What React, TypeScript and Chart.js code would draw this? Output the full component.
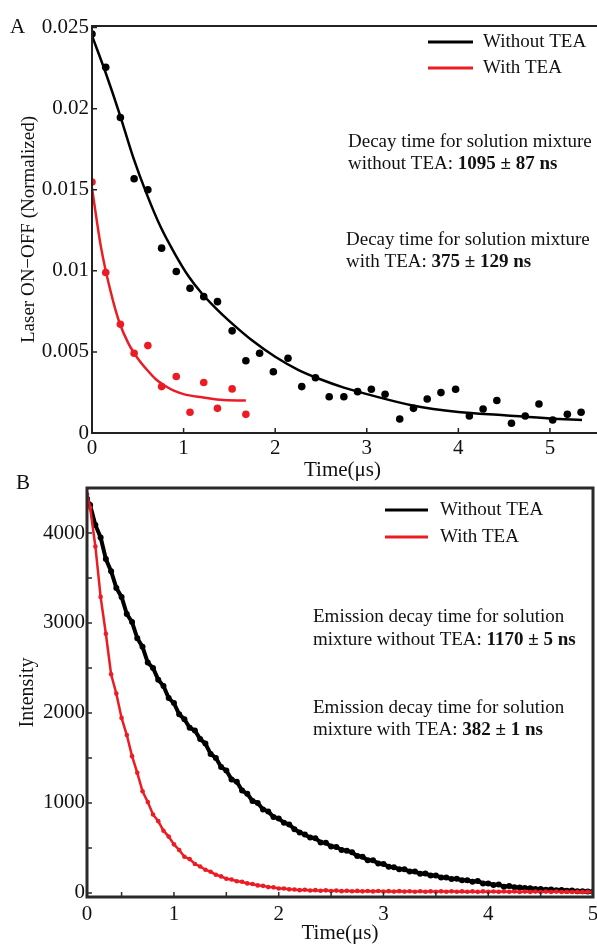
import React, { useEffect, useRef } from 'react';
import { Chart, registerables } from 'chart.js';

Chart.register(...registerables);

const FONT = "'Liberation Serif', 'Times New Roman', serif";
const RED = '#ec1c24';
const BLACK = '#000000';

// ---------- Panel A : Laser ON-OFF ----------
const aPointTimes = [0, 0.15, 0.31, 0.46, 0.61, 0.76, 0.92, 1.07, 1.22, 1.37, 1.53, 1.68, 1.83, 1.98, 2.14, 2.29, 2.44, 2.59, 2.75, 2.9, 3.05, 3.2, 3.36, 3.51, 3.66, 3.81, 3.97, 4.12, 4.27, 4.42, 4.58, 4.73, 4.88, 5.03, 5.19, 5.34];
const aWithoutPoints = [0.0246, 0.02255, 0.01946, 0.01568, 0.015, 0.0114, 0.00996, 0.00893, 0.00841, 0.0081, 0.0063, 0.00446, 0.00492, 0.00378, 0.00461, 0.00286, 0.00341, 0.00224, 0.00224, 0.00255, 0.0027, 0.00239, 0.00086, 0.00152, 0.0021, 0.00249, 0.0027, 0.00105, 0.00148, 0.002, 0.0006, 0.00105, 0.00179, 0.0008, 0.00115, 0.00128];
const aWithPointTimes = [0, 0.15, 0.31, 0.46, 0.61, 0.76, 0.92, 1.07, 1.22, 1.37, 1.53, 1.68];
const aWithPoints = [0.01548, 0.0099, 0.00671, 0.00492, 0.00539, 0.00286, 0.00348, 0.00128, 0.00311, 0.00152, 0.00272, 0.00115];
const aWithoutFitTimes = [0, 0.15, 0.3, 0.45, 0.6, 0.75, 0.9, 1.05, 1.2, 1.35, 1.5, 1.75, 2.0, 2.25, 2.5, 2.75, 3.0, 3.5, 4.0, 4.5, 5.0, 5.35];
const aWithoutFit = [0.0245, 0.0222, 0.0197, 0.017, 0.0147, 0.0127, 0.0111, 0.0097, 0.0086, 0.0077, 0.0069, 0.0057, 0.0047, 0.0039, 0.0033, 0.0028, 0.0024, 0.0017, 0.0013, 0.0011, 0.0009, 0.0008];
const aWithFitTimes = [0, 0.1, 0.2, 0.3, 0.4, 0.5, 0.6, 0.7, 0.8, 0.9, 1.0, 1.2, 1.4, 1.68];
const aWithFit = [0.0151, 0.0114, 0.0088, 0.0068, 0.0055, 0.0046, 0.0039, 0.0033, 0.0029, 0.0026, 0.0024, 0.0022, 0.00205, 0.002];
const aXTicks = [0, 1, 2, 3, 4, 5];
const aXTickLabels = ['0', '1', '2', '3', '4', '5'];
const aYTicks = [0, 0.005, 0.01, 0.015, 0.02, 0.025];
const aYTickLabels = ['0', '0.005', '0.01', '0.015', '0.02', '0.025'];

// ---------- Panel B : Emission intensity ----------
const bTimes = [
  0.17, 0.2, 0.25, 0.3, 0.35, 0.4, 0.45, 0.5, 0.55, 0.6,
  0.65, 0.7, 0.75, 0.8, 0.85, 0.9, 0.95, 1.0, 1.05, 1.1,
  1.15, 1.2, 1.25, 1.3, 1.35, 1.4, 1.45, 1.5, 1.55, 1.6,
  1.65, 1.7, 1.75, 1.8, 1.85, 1.9, 1.95, 2.0, 2.05, 2.1,
  2.15, 2.2, 2.25, 2.3, 2.35, 2.4, 2.45, 2.5, 2.55, 2.6,
  2.65, 2.7, 2.75, 2.8, 2.85, 2.9, 2.95, 3.0, 3.05, 3.1,
  3.15, 3.2, 3.25, 3.3, 3.35, 3.4, 3.45, 3.5, 3.55, 3.6,
  3.65, 3.7, 3.75, 3.8, 3.85, 3.9, 3.95, 4.0, 4.05, 4.1,
  4.15, 4.2, 4.25, 4.3, 4.35, 4.4, 4.45, 4.5, 4.55, 4.6,
  4.65, 4.7, 4.75, 4.8, 4.85, 4.9, 4.95, 5.0,
];
const bWithout = [
  4380, 4310, 4090, 3950, 3710, 3575, 3390, 3290, 3100, 3010,
  2830, 2735, 2560, 2500, 2370, 2300, 2165, 2110, 1985, 1930,
  1835, 1805, 1710, 1660, 1545, 1500, 1400, 1360, 1262, 1235,
  1138, 1102, 1022, 1000, 928, 905, 845, 828, 780, 762,
  708, 672, 650, 615, 608, 562, 558, 515, 512, 478,
  470, 452, 410, 402, 362, 362, 328, 322, 292, 286,
  262, 262, 238, 238, 214, 216, 194, 194, 172, 172,
  154, 158, 140, 140, 124, 132, 106, 104, 88, 94,
  70, 76, 64, 60, 54, 51, 44, 44, 36, 38,
  30, 32, 24, 26, 20, 18, 16, 13,
];
const bWith = [
  4430, 4280, 3850, 3290, 2880, 2430, 2215, 1945, 1755, 1520,
  1335, 1130, 1010, 872, 798, 692, 626, 540, 478, 402,
  376, 322, 294, 258, 236, 202, 184, 158, 150, 130,
  124, 106, 99, 84, 79, 65, 62, 50, 50, 40,
  39, 31, 35, 28, 31, 25, 29, 22, 26, 20,
  24, 19, 23, 18, 22, 17, 21, 16, 20, 15,
  20, 15, 19, 14, 19, 14, 18, 14, 18, 13,
  18, 13, 17, 13, 17, 12, 17, 12, 16, 12,
  16, 12, 16, 11, 15, 11, 15, 11, 15, 10,
  15, 10, 14, 10, 14, 10, 13, 9,
];
const bXTicks = [0.17, 1, 2, 3, 4, 5];
const bXTickLabels = ['0', '1', '2', '3', '4', '5'];
const bXMinor = [0.5, 1.5, 2.5, 3.5, 4.5];
const bYTicks = [0, 1000, 2000, 3000, 4000];
const bYTickLabels = ['0', '1000', '2000', '3000', '4000'];
const bYMinor = [500, 1500, 2500, 3500];

const legendLabels = ['Without TEA', 'With TEA'];

type Line = { normal: string; bold?: string };

function pts(xs: number[], ys: number[]) {
  return xs.map((x, i) => ({ x, y: ys[i] }));
}

function makeDecor(cfg: any) {
  return {
    id: 'decor',
    afterDraw(chart: any) {
      const ctx = chart.ctx as CanvasRenderingContext2D;
      const a = chart.chartArea;
      const xs = chart.scales.x;
      const ys = chart.scales.y;
      ctx.save();
      // frame
      ctx.strokeStyle = cfg.frameColor;
      ctx.lineWidth = cfg.frameWidth;
      ctx.beginPath();
      if (cfg.box) {
        ctx.rect(a.left, a.top, a.right - a.left, a.bottom - a.top);
      } else {
        ctx.moveTo(a.right + 10, a.top);
        ctx.lineTo(a.left, a.top);
        ctx.lineTo(a.left, a.bottom);
        ctx.lineTo(a.right + 10, a.bottom);
      }
      ctx.stroke();
      // inside ticks
      ctx.lineWidth = cfg.tickWidth;
      ctx.beginPath();
      for (const v of cfg.xTicks) {
        const px = xs.getPixelForValue(v);
        if (px <= a.left + 1) continue;
        ctx.moveTo(px, a.bottom);
        ctx.lineTo(px, a.bottom - cfg.tickLen);
      }
      for (const v of cfg.yTicks) {
        const py = ys.getPixelForValue(v);
        ctx.moveTo(a.left, py);
        ctx.lineTo(a.left + cfg.tickLen, py);
      }
      ctx.stroke();
      // legend
      const lg = cfg.legend;
      ctx.font = `19px ${FONT}`;
      ctx.textBaseline = 'middle';
      ctx.textAlign = 'left';
      lg.items.forEach((it: any, i: number) => {
        const y = lg.ys[i];
        ctx.strokeStyle = it.color;
        ctx.lineWidth = 3;
        ctx.beginPath();
        ctx.moveTo(lg.x1, y);
        ctx.lineTo(lg.x2, y);
        ctx.stroke();
        ctx.fillStyle = '#111';
        ctx.fillText(it.label, lg.textX, y);
      });
      // annotations
      for (const ann of cfg.notes) {
        ann.lines.forEach((ln: Line, i: number) => {
          const y = ann.y + i * ann.gap;
          ctx.font = `19px ${FONT}`;
          ctx.fillStyle = '#111';
          ctx.fillText(ln.normal, ann.x, y);
          if (ln.bold) {
            const w = ctx.measureText(ln.normal).width;
            ctx.font = `bold 19px ${FONT}`;
            ctx.fillText(ln.bold, ann.x + w, y);
          }
        });
      }
      // panel letter
      ctx.font = `21px ${FONT}`;
      ctx.fillStyle = '#111';
      ctx.fillText(cfg.letter.text, cfg.letter.x, cfg.letter.y);
      ctx.restore();
    },
  };
}

function fixAxis(width?: number, height?: number) {
  return (s: any) => {
    if (width !== undefined) s.width = width;
    if (height !== undefined) s.height = height;
    s.paddingLeft = 0;
    s.paddingRight = 0;
    s.paddingTop = 0;
    s.paddingBottom = 0;
  };
}

const noGrid = { display: false, drawTicks: false, drawOnChartArea: false };

function PanelA() {
  const ref = useRef<HTMLCanvasElement>(null);
  useEffect(() => {
    const chart = new Chart(ref.current!, {
      type: 'scatter',
      data: {
        datasets: [
          {
            data: pts(aWithFitTimes, aWithFit),
            showLine: true,
            borderColor: RED,
            borderWidth: 2.5,
            pointRadius: 0,
            tension: 0.4,
            cubicInterpolationMode: 'monotone',
          },
          {
            data: pts(aWithPointTimes, aWithPoints),
            backgroundColor: RED,
            borderColor: RED,
            pointRadius: 3.8,
            borderWidth: 0,
          },
          {
            data: pts(aWithoutFitTimes, aWithoutFit),
            showLine: true,
            borderColor: BLACK,
            borderWidth: 2.5,
            pointRadius: 0,
            tension: 0.4,
            cubicInterpolationMode: 'monotone',
          },
          {
            data: pts(aPointTimes, aWithoutPoints),
            backgroundColor: BLACK,
            borderColor: BLACK,
            pointRadius: 3.8,
            borderWidth: 0,
          },
        ],
      } as any,
      options: {
        animation: false,
        responsive: false,
        events: [],
        layout: { padding: { top: 26, left: 0, right: 0, bottom: 0 } },
        plugins: { legend: { display: false }, tooltip: { enabled: false } },
        scales: {
          x: {
            type: 'linear',
            min: 0,
            max: 5.47,
            grid: noGrid,
            border: { display: false },
            afterBuildTicks: (s: any) => { s.ticks = aXTicks.map((v) => ({ value: v })); },
            afterFit: fixAxis(undefined, 57),
            ticks: {
              padding: 3,
              color: '#111',
              font: { family: FONT, size: 21 },
              maxRotation: 0,
              callback: (_v: any, i: number) => aXTickLabels[i],
            },
            title: {
              display: true,
              text: 'Time(μs)',
              color: '#111',
              font: { family: FONT, size: 21, lineHeight: 1 },
              padding: { top: 0, bottom: 9 },
            },
          },
          y: {
            type: 'linear',
            min: 0,
            max: 0.0251,
            grid: noGrid,
            border: { display: false },
            afterBuildTicks: (s: any) => { s.ticks = aYTicks.map((v) => ({ value: v })); },
            afterFit: fixAxis(92, undefined),
            ticks: {
              padding: 3,
              color: '#111',
              font: { family: FONT, size: 21 },
              callback: (_v: any, i: number) => aYTickLabels[i],
            },
            title: {
              display: true,
              text: 'Laser ON−OFF (Normalized)',
              color: '#111',
              font: { family: FONT, size: 19, lineHeight: 1 },
              padding: { top: 20, bottom: 0 },
            },
          },
        },
      } as any,
      plugins: [
        makeDecor({
          box: false,
          frameColor: '#222',
          frameWidth: 2,
          tickWidth: 1.5,
          tickLen: 5,
          xTicks: aXTicks,
          yTicks: aYTicks,
          legend: {
            x1: 428, x2: 473, textX: 483, ys: [42, 68],
            items: [
              { label: legendLabels[0], color: BLACK },
              { label: legendLabels[1], color: RED },
            ],
          },
          notes: [
            { x: 348, y: 142, gap: 22, lines: [{ normal: 'Decay time for solution mixture' }, { normal: 'without TEA: ', bold: '1095 ± 87 ns' }] },
            { x: 346, y: 240, gap: 22, lines: [{ normal: 'Decay time for solution mixture' }, { normal: 'with TEA: ', bold: '375 ± 129 ns' }] },
          ],
          letter: { text: 'A', x: 10, y: 27 },
        }),
      ],
    });
    return () => chart.destroy();
  }, []);
  return (
    <canvas
      ref={ref}
      width={597}
      height={490}
      style={{ position: 'absolute', left: 0, top: 0, width: 597, height: 490 }}
    />
  );
}

function PanelB() {
  const ref = useRef<HTMLCanvasElement>(null);
  useEffect(() => {
    const chart = new Chart(ref.current!, {
      type: 'scatter',
      data: {
        datasets: [
          {
            data: pts(bTimes, bWith),
            showLine: true,
            borderColor: RED,
            backgroundColor: RED,
            borderWidth: 2.5,
            pointRadius: 2.3,
            pointBorderWidth: 0,
          },
          {
            data: pts(bTimes, bWithout),
            showLine: true,
            borderColor: BLACK,
            backgroundColor: BLACK,
            borderWidth: 4,
            pointRadius: 3,
            pointBorderWidth: 0,
          },
        ],
      } as any,
      options: {
        animation: false,
        responsive: false,
        events: [],
        layout: { padding: { top: 18, left: 0, right: 2, bottom: 0 } },
        plugins: { legend: { display: false }, tooltip: { enabled: false } },
        scales: {
          x: {
            type: 'linear',
            min: 0.17,
            max: 5.0,
            grid: noGrid,
            border: { display: false },
            afterBuildTicks: (s: any) => { s.ticks = bXTicks.map((v) => ({ value: v })); },
            afterFit: fixAxis(undefined, 47),
            ticks: {
              padding: 5,
              color: '#111',
              font: { family: FONT, size: 21 },
              maxRotation: 0,
              callback: (_v: any, i: number) => bXTickLabels[i],
            },
            title: {
              display: true,
              text: 'Time(μs)',
              color: '#111',
              font: { family: FONT, size: 21, lineHeight: 1 },
              padding: { top: 0, bottom: 0 },
            },
          },
          y: {
            type: 'linear',
            min: -45,
            max: 4500,
            grid: noGrid,
            border: { display: false },
            afterBuildTicks: (s: any) => { s.ticks = bYTicks.map((v) => ({ value: v })); },
            afterFit: fixAxis(87, undefined),
            ticks: {
              padding: 2,
              color: '#111',
              font: { family: FONT, size: 21 },
              callback: (_v: any, i: number) => bYTickLabels[i],
            },
            title: {
              display: true,
              text: 'Intensity',
              color: '#111',
              font: { family: FONT, size: 20, lineHeight: 1 },
              padding: { top: 18, bottom: 0 },
            },
          },
        },
      } as any,
      plugins: [
        makeDecor({
          box: true,
          frameColor: '#2a2a2a',
          frameWidth: 3,
          tickWidth: 1.5,
          tickLen: 5,
          xTicks: [...bXTicks, ...bXMinor],
          yTicks: [...bYTicks, ...bYMinor],
          legend: {
            x1: 385, x2: 428, textX: 440, ys: [40, 67],
            items: [
              { label: legendLabels[0], color: BLACK },
              { label: legendLabels[1], color: RED },
            ],
          },
          notes: [
            { x: 313, y: 147, gap: 23, lines: [{ normal: 'Emission decay time for solution' }, { normal: 'mixture without TEA: ', bold: '1170 ± 5 ns' }] },
            { x: 313, y: 238, gap: 22, lines: [{ normal: 'Emission decay time for solution' }, { normal: 'mixture with TEA: ', bold: '382 ± 1 ns' }] },
          ],
          letter: { text: 'B', x: 16, y: 13 },
        }),
      ],
    });
    return () => chart.destroy();
  }, []);
  return (
    <canvas
      ref={ref}
      width={597}
      height={474}
      style={{ position: 'absolute', left: 0, top: 470, width: 597, height: 474 }}
    />
  );
}

export default function App() {
  return (
    <div style={{ position: 'absolute', left: 0, top: 0, width: 597, height: 944, background: '#fff', overflow: 'hidden' }}>
      <PanelA />
      <PanelB />
    </div>
  );
}
